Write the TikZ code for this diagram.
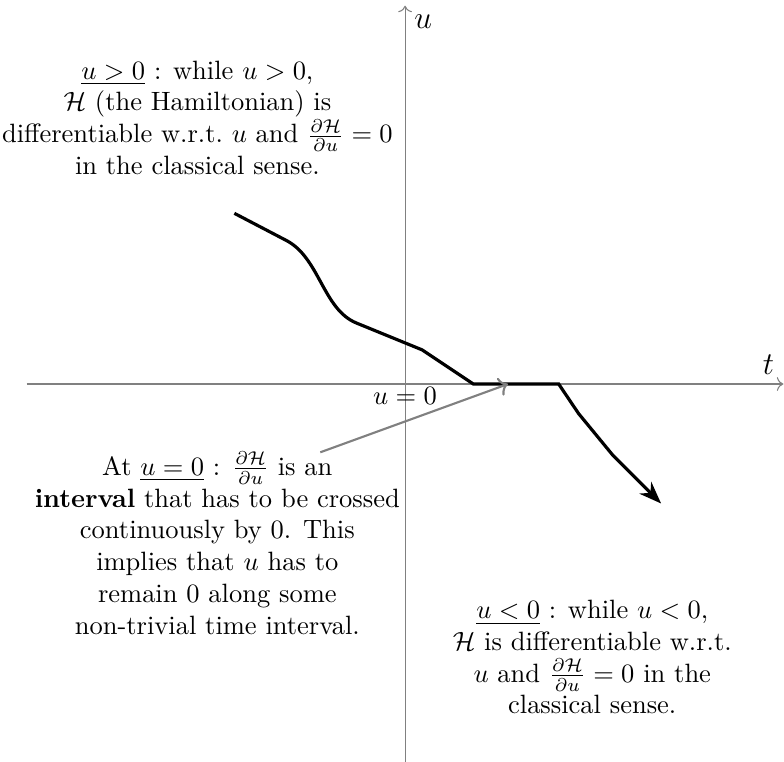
\documentclass[tikz,border=0pt]{standalone}
\usepackage{amsmath,amssymb}
\usetikzlibrary{arrows.meta,positioning}

\begin{document}
\begin{tikzpicture}[scale=0.755,
  axis/.style={->,draw=gray},
  note/.style={align=center},
  pointer/.style={->,draw=gray,thick},
  traj/.style={-{Stealth},very thick}]
  \useasboundingbox (-7.12,-6.63) rectangle (6.66,6.75);
  % axes
  \draw[axis] (-6.65,0) -- (6.65,0) node[above left]{\large $t$};
  \draw[axis] (0,-6.65) -- (0,6.65) node[below right]{\large $u$};
  % trajectory of the control
  \draw[traj] (-3,3) -- (-2.1,2.53) .. controls (-1.5,2.23) and (-1.45,1.31) .. (-0.85,1.07)
    -- (0.3,0.6) -- (1.2,0) -- (2.7,0) -- (3.05,-0.52) -- (3.65,-1.25) -- (4.5,-2.1);
  \node[below,inner sep=1pt] (zero) at (0,0) {$u=0$};
  % the three regimes
  \node[note] (pos) at (-3.65,4.68) {\underline{$u>0$} : while $u>0$,\\
    $\mathcal{H}$ (the Hamiltonian) is\\
    differentiable w.r.t.\ $u$ and $\frac{\partial\mathcal{H}}{\partial u}=0$\\
    in the classical sense.};
  \node[note] (nul) at (-3.3,-2.8) {At \underline{$u=0$} : $\frac{\partial\mathcal{H}}{\partial u}$ is an\\
    \textbf{interval} that has to be crossed\\
    continuously by 0. This\\
    implies that $u$ has to\\
    remain 0 along some\\
    non-trivial time interval.};
  \node[note] (neg) at (3.29,-4.8) {\underline{$u<0$} : while $u<0$,\\
    $\mathcal{H}$ is differentiable w.r.t.\\
    $u$ and $\frac{\partial\mathcal{H}}{\partial u}=0$ in the\\
    classical sense.};
  \coordinate (tail) at (-1.49,-1.2);
  \coordinate (pin) at (1.81,0);
  \draw[pointer] (tail) -- (pin);
\end{tikzpicture}
\end{document}
